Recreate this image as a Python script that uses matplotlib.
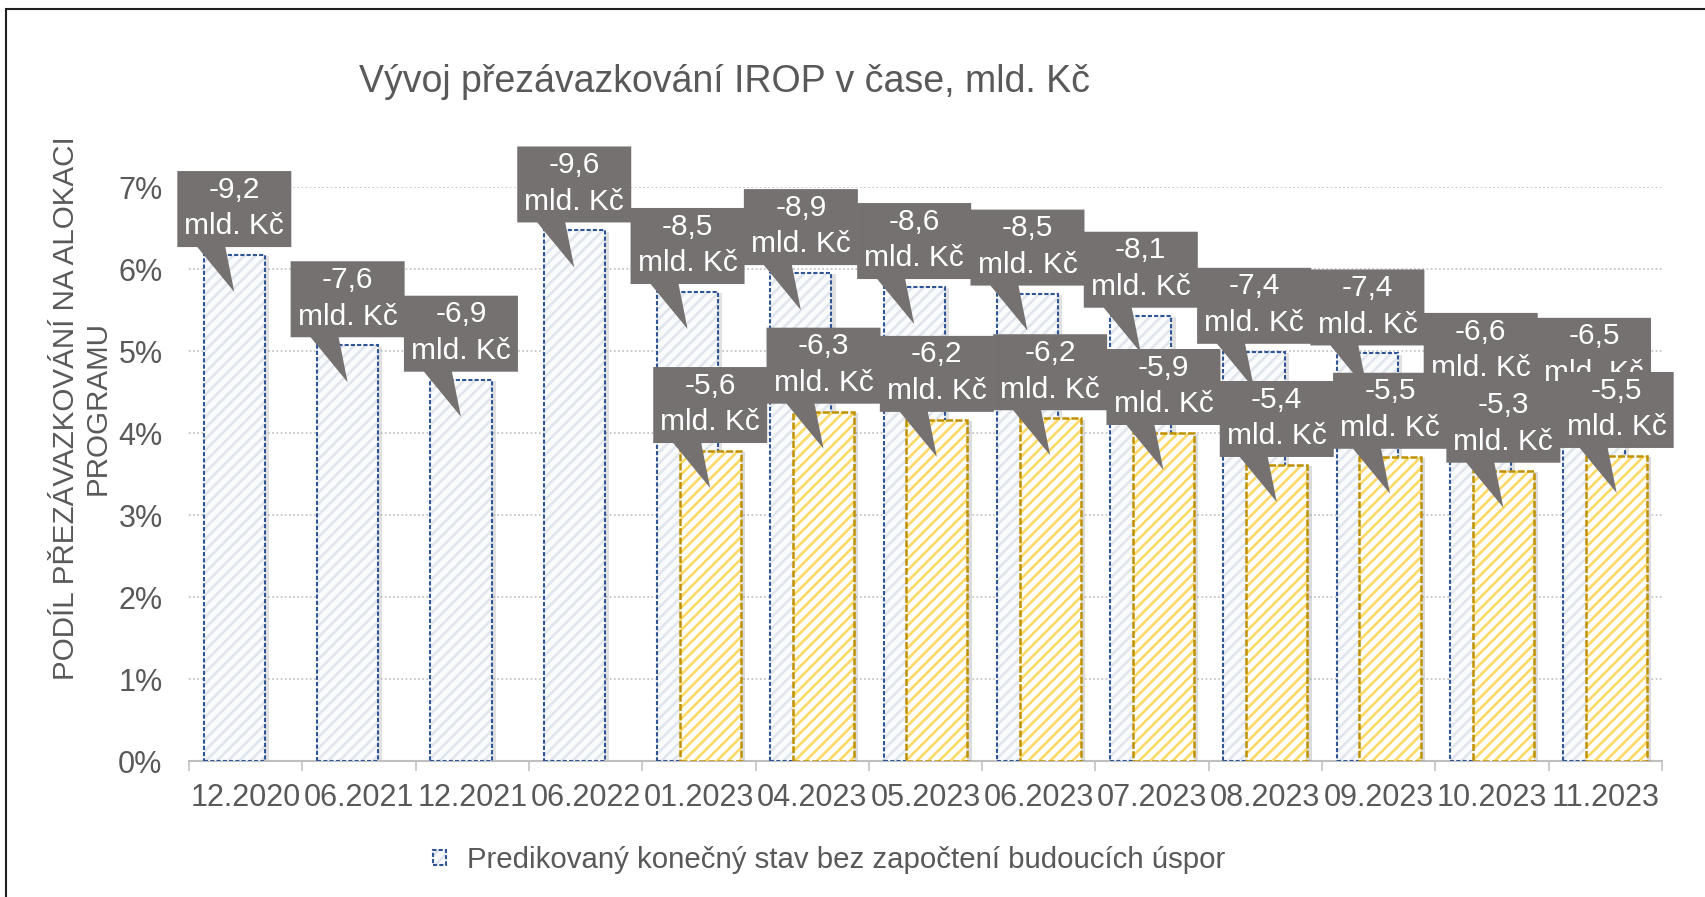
import matplotlib
matplotlib.use("Agg")
import matplotlib.pyplot as plt
import matplotlib.transforms as mtransforms
from matplotlib.patches import Polygon, Rectangle
from matplotlib.legend_handler import HandlerTuple
import numpy as np

plt.rcParams['font.family'] = ['Liberation Sans', 'DejaVu Sans']
plt.rcParams['hatch.linewidth'] = 1.9

# data
obdobi = ["12.2020", "06.2021", "12.2021", "06.2022", "01.2023", "04.2023", "05.2023",
          "06.2023", "07.2023", "08.2023", "09.2023", "10.2023", "11.2023"]
# predikovaný konečný stav bez započtení budoucích úspor (% alokace)
podil_bez_uspor = [6.17, 5.07, 4.65, 6.47, 5.72, 5.95, 5.78, 5.70, 5.43, 4.99, 4.97, 4.44, 4.38]
mld_bez_uspor = [-9.2, -7.6, -6.9, -9.6, -8.5, -8.9, -8.6, -8.5, -8.1, -7.4, -7.4, -6.6, -6.5]
# druhá (žlutá) řada - až od 01.2023
obdobi_s_usporami = obdobi[4:]
podil_s_usporami = [3.78, 4.26, 4.16, 4.18, 4.00, 3.61, 3.71, 3.54, 3.72]
mld_s_usporami = [-5.6, -6.3, -6.2, -6.2, -5.9, -5.4, -5.5, -5.3, -5.5]

titulek = "Vývoj přezávazkování IROP v čase, mld. Kč"
osa_y = "PODÍL PŘEZÁVAZKOVÁNÍ NA ALOKACI\nPROGRAMU"
legenda = "Predikovaný konečný stav bez započtení budoucích úspor"

sedy_text = "#595959"
modra = "#2F5597"
zluta_hrana = "#BF9000"
popisek_bg = "#767171"
W, H = 1706, 897

fig = plt.figure(figsize=(W / 100, H / 100), dpi=100)
ax = fig.add_axes([189 / W, 1 - 761 / H, (1662 - 189) / W, (761 - 187) / H])

x = np.arange(len(obdobi))
x2 = np.array([obdobi.index(o) for o in obdobi_s_usporami])
sirka = 0.54
posun = 0.10

stin_posun = mtransforms.ScaledTranslation(3 / 72, -1 / 72, fig.dpi_scale_trans)


def stin(bars):
    for p in bars:
        p.set_transform(ax.transData + stin_posun)


# modré sloupce
stin(ax.bar(x - posun, podil_bez_uspor, sirka, color="#8a8a8a", alpha=0.25, lw=0, zorder=2))
ax.bar(x - posun, podil_bez_uspor, sirka, facecolor="#FAFBFD", edgecolor="#E1E6EE",
       hatch="///", lw=0, zorder=3)
ax.bar(x - posun, podil_bez_uspor, sirka, facecolor="none", edgecolor=modra,
       lw=1.5, linestyle=(0, (2.0, 1.0)), zorder=4)

# žluté sloupce
stin(ax.bar(x2 + posun, podil_s_usporami, sirka, color="#8a8a8a", alpha=0.3, lw=0, zorder=5))
ax.bar(x2 + posun, podil_s_usporami, sirka, facecolor="#FFFFFF", edgecolor="#FFD966",
       hatch="///", lw=0, zorder=6)
ax.bar(x2 + posun, podil_s_usporami, sirka, facecolor="none", edgecolor=zluta_hrana,
       lw=1.8, linestyle=(0, (2.8, 0.9)), zorder=7)


def popisek(xc, y, hodnota, z):
    tr = mtransforms.Affine2D() + mtransforms.ScaledTranslation(xc, y, ax.transData)
    # bublina s ocáskem, rozměry v pixelech
    tvar = [(-57, 8), (-37, 8), (0, -37), (-9, 8), (57, 8), (57, 84), (-57, 84)]
    ax.add_patch(Polygon(tvar, closed=True, transform=tr, facecolor=popisek_bg,
                         edgecolor="none", zorder=z, clip_on=False))
    txt = f"{hodnota:.1f}".replace(".", ",") + "\nmld. Kč"
    ax.text(0, 47, txt, transform=tr, ha="center", va="center", color="white",
            fontsize=21.5, linespacing=1.4, zorder=z + 0.5, clip_on=False)


z = 10
for xi, v, m in zip(x - posun, podil_bez_uspor, mld_bez_uspor):
    popisek(xi, v, m, z)
    z += 1
for xi, v, m in zip(x2 + posun, podil_s_usporami, mld_s_usporami):
    popisek(xi, v, m, z)
    z += 1

ax.set_xlim(-0.5, len(obdobi) - 0.5)
ax.set_ylim(0, 7)
ax.set_xticks(x)
ax.set_xticklabels(obdobi)
ax.set_xticks(np.arange(-0.5, len(obdobi)), minor=True)
ax.tick_params(axis="x", which="major", length=0, pad=16, labelsize=22, labelcolor=sedy_text)
ax.tick_params(axis="x", which="minor", length=7.2, width=1.1, color="#BFBFBF")
ax.set_yticks(range(0, 8))
ax.set_yticklabels([f"{i}%" for i in range(0, 8)])
ax.tick_params(axis="y", length=0, pad=19, labelsize=22, labelcolor=sedy_text)

for s in ["top", "right", "left"]:
    ax.spines[s].set_visible(False)
ax.spines["bottom"].set_color("#BFBFBF")
ax.spines["bottom"].set_linewidth(1.5)
ax.yaxis.grid(True, color="#BFBFBF", linestyle=(0, (1, 1.5)), lw=1.2)
ax.set_axisbelow(True)

fig.text(359 / W, 1 - 92 / H, titulek, fontsize=27, color=sedy_text, va="baseline")
fig.text(82 / W, 1 - 408 / H, osa_y, rotation=90, ha="center", va="center",
         fontsize=21.3, color=sedy_text, linespacing=1.15)

h_fill = Rectangle((0, 0), 1, 1, facecolor="#FAFBFD", edgecolor="#E1E6EE", hatch="///", lw=0)
h_edge = Rectangle((0, 0), 1, 1, facecolor="none", edgecolor=modra, lw=1.5,
                   linestyle=(0, (2.0, 1.0)))
fig.legend([(h_fill, h_edge)], [legenda], handler_map={tuple: HandlerTuple()},
           loc="center", bbox_to_anchor=(829 / W, 1 - 860 / H), frameon=False,
           fontsize=21.2, labelcolor=sedy_text, handlelength=0.45, handleheight=0.45,
           handletextpad=0.68)

# rámeček grafu
fig.add_artist(Rectangle((6 / W, -0.1), 1.2, 1 - 9 / H + 0.1, transform=fig.transFigure,
                         fill=False, edgecolor="#1f1f1f", lw=1.5))

fig.savefig("out.png", dpi=100)
